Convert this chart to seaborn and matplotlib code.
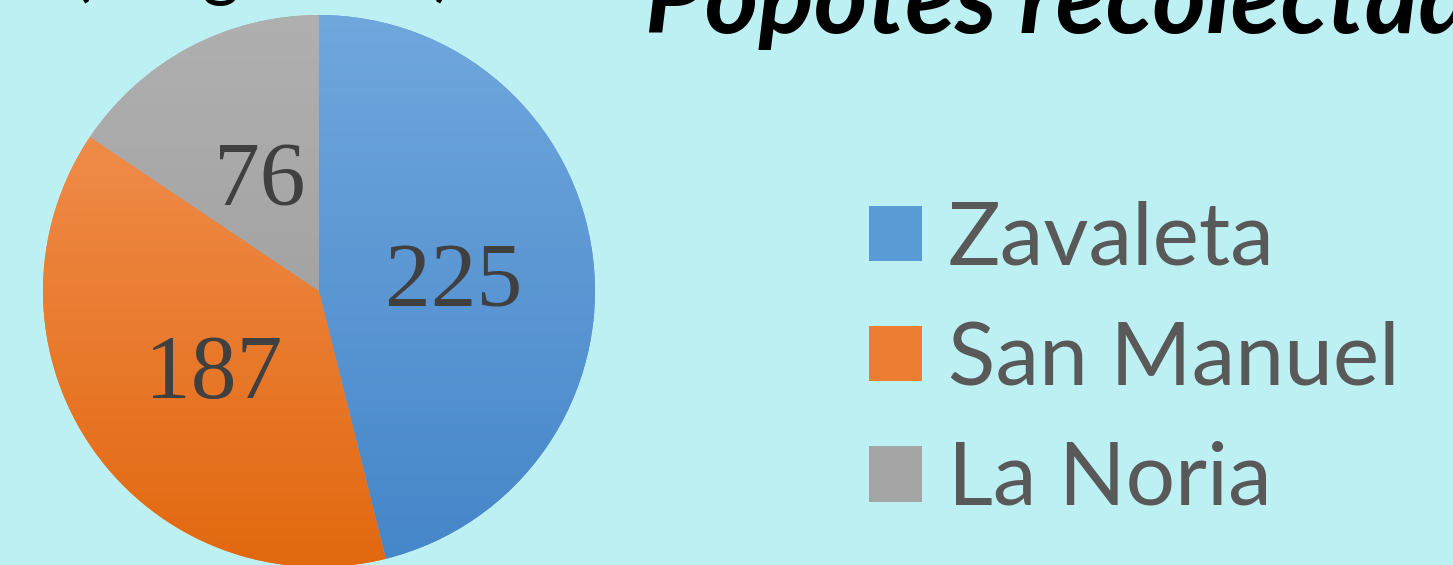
import numpy as np
import matplotlib
matplotlib.use("Agg")
import matplotlib.pyplot as plt
import matplotlib.transforms as mtransforms
import seaborn as sns

# ---- data ----
categories = ["Zavaleta", "San Manuel", "La Noria"]
values = [225, 187, 76]
title_text = "Popotes recolectados"
unit_text = "(kilogramos)"

# ---- style ----
sns.set_theme(style="white")
plt.rcParams["font.family"] = ["Lato", "DejaVu Sans"]

bg = "#bdf0f3"
top_cols = ["#70a7dd", "#f3955a", "#b0b0b0"]
bot_cols = ["#4586c9", "#e2680f", "#979797"]
mid_cols = ["#5b9bd5", "#ed7d31", "#a5a5a5"]

W, H = 1453, 565
fig = plt.figure(figsize=(W / 100, H / 100), dpi=100, facecolor=bg)

# pie axes: centre (319, 291) px, radius 276 px
cx, cy, r = 319, 291, 276
ax = fig.add_axes([(cx - r) / W, (H - cy - r) / H, 2 * r / W, 2 * r / H])
ax.set_facecolor("none")

total = sum(values)
wedges, texts, autotexts = ax.pie(
    values,
    colors=mid_cols,
    startangle=90,
    counterclock=False,
    radius=1,
    autopct=lambda p: f"{round(p * total / 100)}",
    pctdistance=0.48,
    wedgeprops=dict(linewidth=0),
    textprops=dict(family="Liberation Serif", fontsize=66, color="#404040"),
)
ax.set_aspect("equal")

# vertical gradient inside each wedge
grad = np.linspace(1, 0, 256).reshape(-1, 1)
for w, tc, bc in zip(wedges, top_cols, bot_cols):
    t = np.array(matplotlib.colors.to_rgb(tc))
    b = np.array(matplotlib.colors.to_rgb(bc))
    img = grad[..., None] * t + (1 - grad[..., None]) * b
    im = ax.imshow(img, extent=(-1, 1, -1, 1), origin="upper",
                   zorder=w.get_zorder(), aspect="auto", interpolation="bilinear")
    im.set_clip_path(w)
shift = mtransforms.ScaledTranslation(0.03, -0.09, fig.dpi_scale_trans)
for t in autotexts:
    t.set_zorder(5)
    t.set_transform(t.get_transform() + shift)
ax.set_xlim(-1, 1)
ax.set_ylim(-1, 1)

# legend
leg = fig.legend(
    wedges, categories,
    loc="center left",
    bbox_to_anchor=(869 / W, 1 - 360 / H),
    frameon=False,
    fontsize=63,
    handlelength=0.6,
    handleheight=0.6,
    handletextpad=0.3,
    labelspacing=0.47,
    borderpad=0,
    borderaxespad=0,
)
for txt in leg.get_texts():
    txt.set_color("#595959")

# clipped header texts
fig.text(263 / W, 1 + 7 / H, unit_text, ha="center", va="baseline",
         fontsize=52, color="black")
fig.text(645 / W, 1 - 33 / H, title_text, ha="left", va="baseline",
         fontsize=74, color="black", fontweight="bold", fontstyle="italic")

fig.savefig("out.png", dpi=100, facecolor=bg)
